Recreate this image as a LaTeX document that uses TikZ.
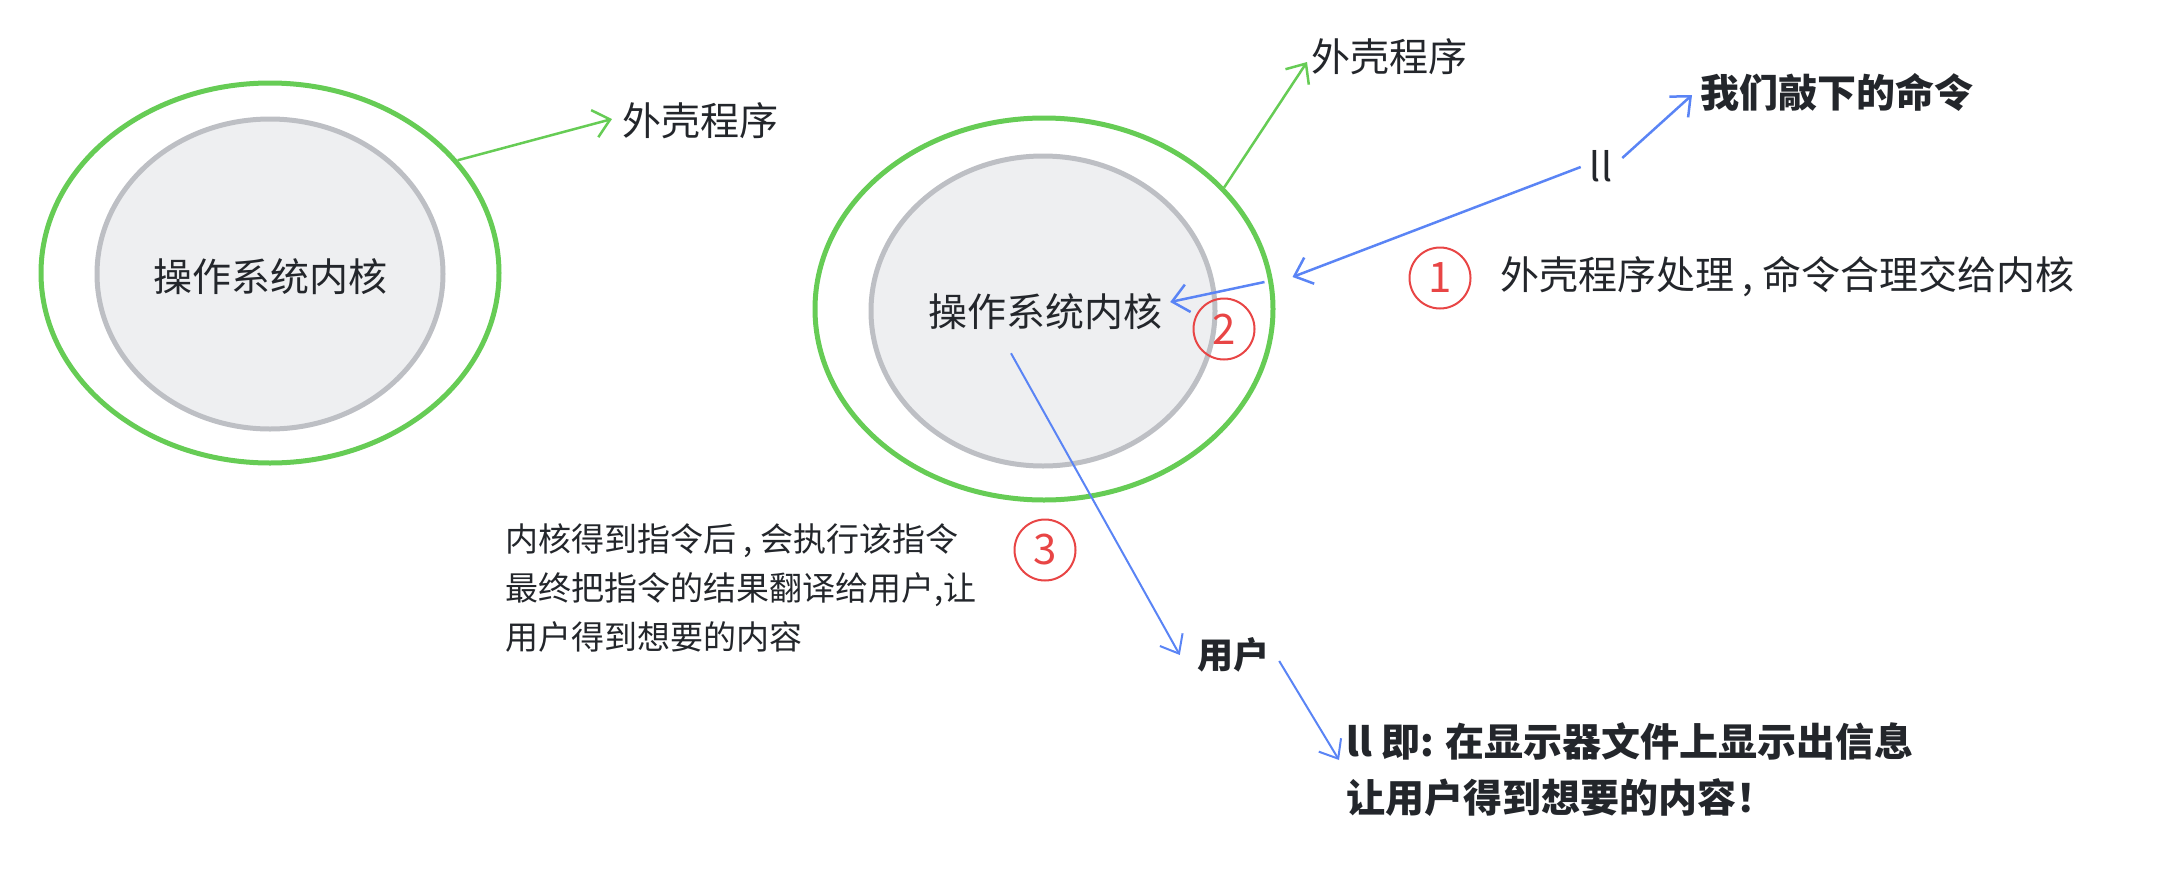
\documentclass[tikz,border=0pt]{standalone}
\usepackage{fontspec}
\setmainfont{Noto Sans CJK SC}
\usetikzlibrary{arrows.meta,shapes.geometric}
\definecolor{ringgreen}{HTML}{66CC55}
\definecolor{kerngray}{HTML}{BDBFC4}
\definecolor{kernfill}{HTML}{EEEFF1}
\definecolor{arrblue}{HTML}{5A84F5}
\definecolor{numred}{HTML}{E84545}
\definecolor{ink}{HTML}{23262B}
\tikzset{
  shellring/.style={ellipse, draw=ringgreen, line width=5pt, inner sep=0pt},
  kernring/.style={ellipse, draw=kerngray, fill=kernfill, line width=5pt, inner sep=0pt},
  txt/.style={inner sep=0pt, text=ink, font=\fontsize{39pt}{47pt}\selectfont},
  btxt/.style={inner sep=0pt, text=ink, font=\fontsize{39pt}{56pt}\selectfont\bfseries},
  smalltxt/.style={inner sep=0pt, text=ink, align=left, font=\fontsize{33pt}{49pt}\selectfont},
  numc/.style={circle, draw=numred, line width=2pt, minimum size=61pt, inner sep=0pt, text=numred, font=\fontsize{42pt}{42pt}\selectfont},
  garrow/.style={draw=ringgreen, line width=2.5pt, -{Straight Barb[length=16pt,width=28pt,line width=2.5pt]}},
  barrow/.style={draw=arrblue, line width=2.5pt, -{Straight Barb[length=16pt,width=28pt,line width=2.5pt]}},
  barrowthin/.style={draw=arrblue, line width=2pt, -{Straight Barb[length=16pt,width=26pt,line width=2pt]}}
}
\begin{document}
\begin{tikzpicture}[x=1pt,y=-1pt]
\useasboundingbox (0,0) rectangle (2164,876);
% left diagram
\node[shellring, minimum width=458pt, minimum height=380pt] (lo) at (270,273) {};
\node[kernring, minimum width=346pt, minimum height=310pt] (li) at (270,274) {};
\node[txt] (lk) at (270,277) {操作系统内核};
\node[txt, anchor=west] (shl) at (622,121) {外壳程序};
\draw[garrow] (lo.31) -- ([shift={(-10,-2)}]shl.west);
% right diagram
\node[shellring, minimum width=458pt, minimum height=382pt] (ro) at (1044,309) {};
\node[kernring, minimum width=344pt, minimum height=310pt] (ri) at (1043,311) {};
\node[txt] (rk) at (1045,312) {操作系统内核};
\node[txt, anchor=west] (shr) at (1311,57) {外壳程序};
\draw[garrow] (ro.34) -- ([shift={(-4,5)}]shr.west);
% command
\node[txt] (ll) at (1601,166) {ll};
\node[btxt, anchor=west] (cmd) at (1700,92) {我们敲下的命令};
\draw[barrow] ([shift={(10,-8)}]ll.east) -- ([shift={(-8,3)}]cmd.west);
\draw[barrow] ([shift={(-9,1)}]ll.west) -- ([shift={(17,-32)}]ro.east);
\node[numc] (n1) at (1440,278) {1};
\node[txt, anchor=west] (t1) at (1500,277) {外壳程序处理 , 命令合理交给内核};
\draw[barrow] ([shift={(-11,-27)}]ro.east) -- ([shift={(8,-10)}]rk.east);
\node[numc] (n2) at (1224,329) {2};
% result
\node[numc] (n3) at (1045,550) {3};
\node[smalltxt, anchor=west] (t3) at (505,588) {内核得到指令后 , 会执行该指令\\最终把指令的结果翻译给用户,让\\用户得到想要的内容};
\node[btxt, font=\fontsize{36pt}{44pt}\selectfont\bfseries] (user) at (1233,655) {用户};
\draw[barrowthin] ([shift={(-34,23)}]rk.south) -- ([shift={(-17,0)}]user.west);
\node[btxt, anchor=west, align=left] (res) at (1346,770) {ll 即: 在显示器文件上显示出信息\\让用户得到想要的内容！};
\draw[barrowthin] ([shift={(10,6)}]user.east) -- ([shift={(-7,-10)}]res.west);
\end{tikzpicture}
\end{document}
